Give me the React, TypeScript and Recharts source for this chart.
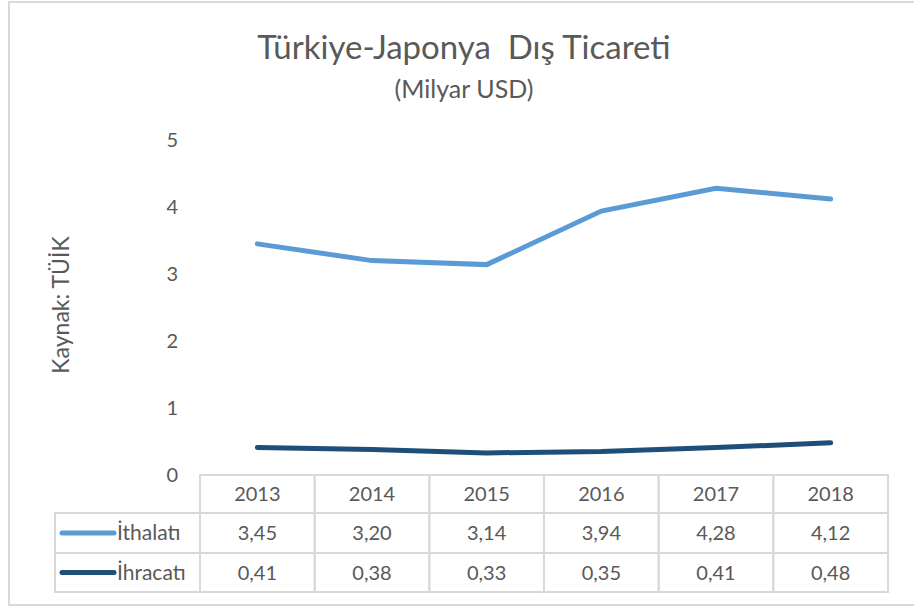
import { LineChart, Line, XAxis, YAxis, Customized } from 'recharts';

const years = ['2013', '2014', '2015', '2016', '2017', '2018'];
const ithalati = [3.45, 3.2, 3.14, 3.94, 4.28, 4.12];
const ihracati = [0.41, 0.38, 0.33, 0.35, 0.41, 0.48];
const yTicks = [0, 1, 2, 3, 4, 5];

const seriesNames = ['İthalatı', 'İhracatı'];
const seriesColors = ['#5B9BD5', '#1F4E79'];

const data = years.map((year, i) => ({
  year,
  ithalati: ithalati[i],
  ihracati: ihracati[i],
}));

const FONT = 'Lato, "Open Sans", sans-serif';
const TEXT = '#595959';
const GRID = '#d9d9d9';

// row boundaries of the data table under the plot
const ROWS = [475, 513, 553, 592];
const COL_W = 114.7;

const fmt = (v: number) => v.toFixed(2).replace('.', ',');

function TableColumn(props: any) {
  const { x, index } = props;
  const left = x - COL_W / 2;
  const vals = [years[index], fmt(ithalati[index]), fmt(ihracati[index])];
  return (
    <g>
      {vals.map((v, r) => (
        <g key={r}>
          <rect
            x={left}
            y={ROWS[r]}
            width={COL_W}
            height={ROWS[r + 1] - ROWS[r]}
            fill="none"
            stroke={GRID}
            strokeWidth={2}
          />
          <text
            x={x}
            y={(ROWS[r] + ROWS[r + 1]) / 2 + 7}
            textAnchor="middle"
            fontSize={20}
            fontFamily={FONT}
            fill={TEXT}
          >
            {v}
          </text>
        </g>
      ))}
    </g>
  );
}

function LegendColumn() {
  return (
    <g>
      {seriesNames.map((name, i) => {
        const top = ROWS[i + 1];
        const mid = (top + ROWS[i + 2]) / 2;
        return (
          <g key={name}>
            <rect x={55} y={top} width={145} height={ROWS[i + 2] - top} fill="none" stroke={GRID} strokeWidth={2} />
            <line x1={62} y1={mid} x2={114} y2={mid} stroke={seriesColors[i]} strokeWidth={5} strokeLinecap="round" />
            <text x={117} y={mid + 7} fontSize={21} fontFamily={FONT} fill={TEXT}>
              {name}
            </text>
          </g>
        );
      })}
    </g>
  );
}

function Frame() {
  return (
    <g>
      <rect x={9} y={2} width={912} height={603} fill="none" stroke={GRID} strokeWidth={2} />
      <text
        x={464}
        y={59}
        textAnchor="middle"
        fontSize={33}
        fontFamily={FONT}
        fill={TEXT}
        style={{ whiteSpace: 'pre' }}
      >
        {'Türkiye-Japonya  Dış Ticareti'}
      </text>
      <text x={464} y={98} textAnchor="middle" fontSize={25} fontFamily={FONT} fill={TEXT}>
        (Milyar USD)
      </text>
      <text
        x={0}
        y={0}
        transform="translate(69 305) rotate(-90)"
        textAnchor="middle"
        fontSize={23}
        fontFamily={FONT}
        fill={TEXT}
      >
        Kaynak: TÜİK
      </text>
    </g>
  );
}

export default function App() {
  return (
    <div style={{ position: 'absolute', left: 0, top: 0, width: 914, height: 608, background: '#fff' }}>
      <LineChart width={914} height={608} data={data} margin={{ top: 140, right: 26, left: 140, bottom: 16 }}>
        <XAxis
          dataKey="year"
          height={117}
          axisLine={false}
          tickLine={false}
          tickSize={0}
          tickMargin={0}
          interval={0}
          padding={{ left: COL_W / 2, right: COL_W / 2 }}
          tick={<TableColumn />}
        />
        <YAxis
          width={60}
          domain={[0, 5]}
          ticks={yTicks}
          axisLine={false}
          tickLine={false}
          tickMargin={16}
          tick={{ fontSize: 20, fontFamily: FONT, fill: TEXT }}
        />
        <Line
          type="linear"
          dataKey="ithalati"
          name={seriesNames[0]}
          stroke={seriesColors[0]}
          strokeWidth={5}
          strokeLinecap="round"
          dot={false}
          isAnimationActive={false}
        />
        <Line
          type="linear"
          dataKey="ihracati"
          name={seriesNames[1]}
          stroke={seriesColors[1]}
          strokeWidth={5}
          strokeLinecap="round"
          dot={false}
          isAnimationActive={false}
        />
        <Customized component={<LegendColumn />} />
        <Customized component={<Frame />} />
      </LineChart>
    </div>
  );
}
